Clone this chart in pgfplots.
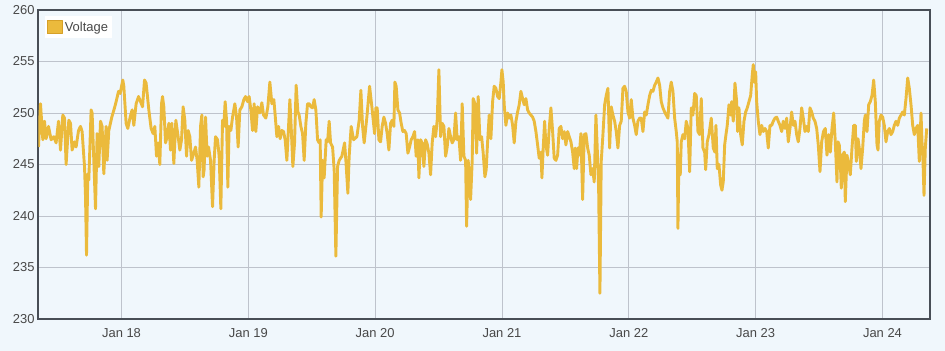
\documentclass[border=0pt]{standalone}
\usepackage{fontspec}
\setmainfont{Liberation Sans}
\usepackage{pgfplots}
\pgfplotsset{compat=1.18}
\usepackage{pgfplotstable}
\definecolor{bg}{RGB}{240,247,252}
\definecolor{volt}{RGB}{235,186,60}
\definecolor{voltdark}{RGB}{214,160,40}
\definecolor{gridc}{RGB}{190,195,204}
\definecolor{framec}{RGB}{72,78,86}
\definecolor{txt}{RGB}{72,72,72}

% x: position along the time axis (Jan 18 = 121.7, one day = 126.8), y: voltage
\pgfplotstableread{
x y
38.7 246.7
40.7 250.9
43 247.4
44.7 249.2
46.3 247.5
48.7 248.7
51.3 247.4
54 247.7
56.3 247.1
58.7 249.2
60.7 246.4
63 249.8
64.7 249.5
66.3 245.0
69 249.3
70.7 249.0
72.3 246.4
74.7 247.2
76.3 246.7
78.7 248.3
80.7 248.7
82.3 248.2
84.7 244.8
85.7 241.9
86.7 236.2
88 244.1
89 243.5
91.3 250.3
92.3 250.0
94 245.4
95.7 240.7
97.3 248.0
99 244.8
100.7 249.2
102.3 248.7
104 244.1
106.3 248.7
107.3 245.4
109 248.3
112 249.6
114.7 250.5
116.3 251.1
118.7 252.1
120.3 251.9
123 253.2
124 252.6
126.3 249.0
128 248.5
130.3 249.6
132.3 250.3
134 248.8
136.3 250.9
138.7 251.6
140.7 251.1
142.7 250.6
144.7 253.2
146.3 252.9
149 250.3
151.3 248.5
153.3 248.0
155 248.7
156.7 245.8
158.3 247.1
160 245.0
161.7 250.9
162.7 251.6
164 250.6
165.7 247.1
167.3 247.7
169 249.0
170.7 246.4
172 249.0
174 245.1
176 249.3
178.3 247.7
180 246.4
181.7 247.4
183.3 250.6
185 249.3
186.7 245.8
188.3 248.3
190 247.7
191.7 245.4
194 246.1
195.7 246.7
197.3 245.4
199 242.8
200.7 248.7
202 249.8
203.3 243.8
204.3 244.5
205.7 249.6
207.3 245.8
208.7 246.7
210.7 245.4
212.7 240.9
214.3 245.4
215.7 247.7
217.7 247.4
219.3 245.8
221 240.7
222.7 249.3
224 248.7
225.3 251.1
226.7 249.3
228 242.8
229.3 248.7
231 248.3
232.7 249.6
235 250.9
236.7 249.6
238.3 246.7
240 250.3
242 250.6
244 251.3
245.7 251.6
247.7 251.1
249.3 251.6
251 250.3
252.7 248.3
254.3 250.9
256 248.2
257.7 250.6
260 250.0
262 251.0
263.7 249.8
266 249.5
268 250.6
270 253.0
272 250.9
274 251.3
275.3 249.8
277 247.7
278.7 248.7
280.3 247.5
282 248.3
283.7 248.2
285.3 247.4
287 245.4
288.7 248.7
290 251.3
291.3 248.7
293 244.8
294.7 247.1
296.3 252.7
298 250.1
299.3 249.8
301 248.7
302.7 248.0
304.3 245.4
306 249.0
307.7 250.9
309.3 250.9
311 250.6
312.7 250.5
314.3 251.3
316 250.3
317.7 247.4
319.3 247.1
320.3 247.4
321.3 239.9
322.7 245.4
324.3 243.7
326.3 247.4
327.7 247.2
329.3 249.2
330.7 247.1
332.7 246.7
334.3 244.5
336 236.1
337.7 244.8
339.3 245.4
342 245.8
344.7 247.1
346 245.4
348 242.2
349.3 245.8
351.3 248.7
353.7 247.4
357 247.7
359.3 249.3
361 252.2
362.7 248.7
364.3 247.1
367 249.6
369.7 252.6
372 250.6
374.7 248.0
376 250.5
377.3 250.5
379 247.4
380.7 247.2
382.3 248.7
384 249.6
385.7 249.0
387.3 248.0
389 246.4
390.7 249.0
392.3 249.3
394 248.7
395 253.0
396.3 252.6
398 250.3
399.7 250.0
401.3 249.0
403 248.2
404.7 248.3
406.3 248.0
408 246.1
409.7 246.7
411.3 247.4
413 247.7
414.7 248.2
416.3 245.8
418 247.4
419 243.7
420.7 247.4
422.3 247.1
424 244.8
425.7 247.4
427.3 247.0
429 246.1
430.7 244.0
432.3 247.1
434 248.7
435.7 247.7
437.3 249.3
439 254.2
440.7 247.7
442.3 249.0
444 248.7
445.7 245.8
447.3 246.7
449 248.5
450.7 247.7
452.3 247.1
454 247.4
455.7 250.0
457.3 247.4
459 247.7
460.7 245.4
462.3 250.9
464 245.8
465.7 245.4
466.7 239.0
468.3 245.4
470.7 241.6
472.3 245.4
473.3 251.4
475 250.9
476.7 246.1
478.3 251.6
480 247.4
481.7 247.7
483.3 246.1
485 243.8
486.3 244.5
487.7 247.2
489.3 249.8
491 247.5
492.7 251.1
494.3 252.6
496 252.4
497.7 251.6
499.3 251.4
501 253.0
502 254.2
503.3 253.0
504.3 250.8
506 248.8
507.7 250.0
509.3 249.5
511 249.8
512.7 248.8
514.3 247.1
516 249.2
517.7 250.1
519.3 250.8
521 252.1
522.7 251.4
524.3 250.8
526 251.4
527.7 250.3
529.3 250.0
531 249.8
532.7 249.6
534.3 249.2
536 248.2
537.7 246.9
539.3 245.6
541 246.2
542 243.7
543.3 246.6
544.7 249.2
546 246.9
547.7 245.9
549.3 248.5
551 250.5
552.7 248.2
554.3 245.6
556 245.4
557.7 245.9
559.3 248.5
561 248.7
562.7 247.5
564.3 248.2
566 246.9
567.7 248.2
569.3 247.7
571 247.2
572.7 246.2
574.3 244.6
575.3 246.6
576.7 244.6
578 246.6
579.3 245.9
581 248.0
582.7 241.6
584.3 247.9
586 248.0
587.7 246.6
589.3 245.9
591 244.0
592.7 244.6
594.3 243.3
596 249.8
597.7 245.6
598.7 242.7
600 232.5
601.3 245.3
603 247.9
604.7 250.8
606.3 251.7
608 252.4
609.7 246.6
611.3 250.6
613 249.8
614.7 249.2
616.3 248.2
618 246.6
619.7 248.8
621.3 249.2
623 252.4
624.7 252.6
626.3 252.1
628 250.1
629.7 249.5
631.3 251.3
633 249.5
634.7 248.8
636.3 247.9
638 249.2
639.7 249.5
641.3 249.5
643 248.2
644.7 250.1
646.3 249.8
648 250.8
649.7 251.7
651.3 252.2
653 252.1
654.7 252.7
656.3 253.0
658 253.4
659.7 252.7
661.3 251.1
663 250.5
664.7 250.1
666.3 249.8
668 249.5
669.7 252.1
671.3 253.0
673 252.1
674.7 249.5
676.3 248.2
677.3 247.2
678 238.8
679 245.9
680.3 244.0
681.3 247.2
683 247.9
684.7 247.5
686.3 249.2
688 248.5
689.7 244.3
691.3 250.5
693 249.8
694.7 251.9
696.3 251.7
698 248.2
699.7 247.9
701.3 251.4
703 246.6
704.7 246.2
705.7 244.5
707.3 247.2
709 247.9
711.3 249.5
713.3 246.6
715 246.2
716 248.8
717.3 244.6
719 245.0
720.7 243.0
722 242.5
723.3 243.3
724.7 246.9
726 247.9
727.3 248.8
729 250.8
730.7 249.8
731.7 251.1
733.3 249.2
735 252.9
736.7 251.1
737.7 248.2
739 250.5
740.7 247.9
742.3 246.9
744 249.2
745.7 250.1
747.3 250.5
749 251.1
750.7 251.7
752.3 253.7
753.3 254.7
754.3 253.0
755.7 254.0
756.7 251.1
758.3 249.2
760 247.9
761.7 248.8
763.3 248.2
765 248.5
766.7 248.2
768.3 246.6
770 248.8
771.7 248.8
773.3 249.2
775 249.5
776.7 249.6
778.3 249.2
780 248.8
781.7 248.2
783.3 249.2
785 248.5
786.7 249.5
788.3 247.2
790 248.5
791.7 250.1
793.3 248.8
795 249.2
796.7 247.9
798.3 247.2
800 248.5
801.7 250.5
803.3 249.5
805 248.2
806.7 248.7
808.3 248.2
810 250.5
811.7 250.1
813.3 249.5
815 249.2
816.7 248.5
818.3 246.9
820 244.3
821.7 247.2
823.5 248.2
825.3 248.5
827 245.9
828.7 247.9
830.3 246.2
832 248.5
833.7 250.0
835.3 247.2
837 243.3
838 247.2
839.3 246.9
840.3 245.3
841.3 242.7
842.7 245.9
844.3 246.2
845.3 241.4
847 245.9
848.7 245.0
850.3 244.0
852 246.6
853.7 248.8
855.3 248.8
856.3 245.3
858 247.5
859.3 246.6
861 244.6
862.7 246.6
864.3 249.2
865.3 249.8
867 248.2
868.7 250.8
870.3 251.1
872 251.7
873.7 253.2
875.3 251.1
877 246.9
878 246.4
879.3 249.2
881 249.8
882.7 249.6
884.3 248.8
886 247.2
887.7 248.2
889.3 248.5
891 247.9
892.7 248.2
894.3 248.8
896 249.2
897.7 248.8
899.3 249.5
901 249.8
902.7 250.1
904.3 249.8
906 251.4
907.7 253.4
909.3 252.4
911 250.8
912.7 248.8
914.3 247.9
916 248.5
917.7 248.8
919.3 245.3
921 250.0
922 247.2
923 245.3
924 242.0
925.3 246.6
926.7 248.5
}\voltdata

\begin{document}
\begin{tikzpicture}
\fill[bg] (-38.5bp,-32bp) rectangle (906.5bp,319bp);
\begin{axis}[
  at={(0,0)}, anchor=south west,
  scale only axis, width=891.5bp, height=309bp,
  xmin=-0.6546, xmax=6.3746, ymin=230, ymax=260,
  xtick={0,1,2,3,4,5,6},
  xticklabels={Jan 18,Jan 19,Jan 20,Jan 21,Jan 22,Jan 23,Jan 24},
  ytick={230,235,240,245,250,255,260},
  grid=major,
  major grid style={draw=gridc, line width=0.8bp},
  axis line style={draw=framec, line width=2bp},
  major tick length=0pt,
  tick style={draw=none},
  ticklabel style={font=\fontsize{13}{15}\selectfont, text=txt},
  /pgf/number format/assume math mode=true,
  yticklabel style={xshift=-0.5bp},
  xticklabel style={yshift=-6bp},
  axis background/.style={fill=bg},
  legend style={at={(0,1)}, anchor=north west, xshift=6.5bp, yshift=-6bp,
    fill=white, draw=none, font=\fontsize{13}{15}\selectfont, text=txt,
    inner xsep=2bp, inner ysep=3.5bp, row sep=0pt},
  legend cell align=left,
  legend image code/.code={\draw[fill=volt, draw=voltdark, line width=0.6bp] (0bp,-6.5bp) rectangle (15bp,6.5bp);},
]
\addplot[draw=volt, line width=2.9bp, line join=round, x filter/.expression={(x-121.7)/126.8}] table[x=x, y=y] {\voltdata};
\addlegendentry{Voltage}
\end{axis}
\pgfresetboundingbox
\useasboundingbox (-38.5bp,-32bp) rectangle (906.5bp,319bp);
\end{tikzpicture}
\end{document}
